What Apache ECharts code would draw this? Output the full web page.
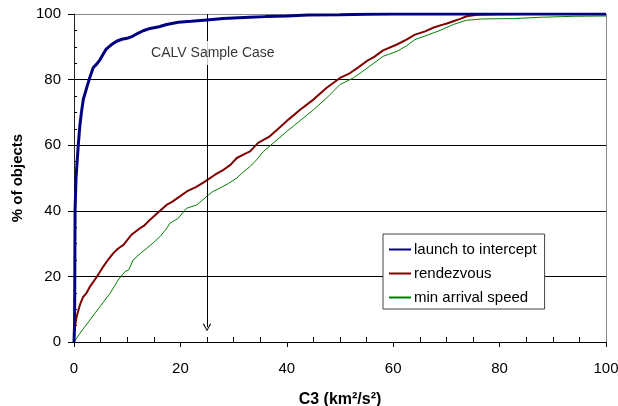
<!DOCTYPE html>
<html>
<head>
<meta charset="utf-8">
<script src="https://cdn.jsdelivr.net/npm/echarts@6/dist/echarts.min.js"></script>
<style>
html,body{margin:0;padding:0;background:#fff;}
#chart{width:618px;height:406px;}
</style>
</head>
<body>
<div id="chart"></div>
<script>
// ---- data ----
const seriesNames = ['launch to intercept', 'rendezvous', 'min arrival speed'];
const xTicks = [0, 20, 40, 60, 80, 100];
const yTicks = [0, 20, 40, 60, 80, 100];
const minorTicks = [5, 10, 15, 25, 30, 35, 45, 50, 55, 65, 70, 75, 85, 90, 95];

const launchData = [[0,0],[0.1,5],[0.15,20],[0.2,40],[0.38,50],[0.8,60],[1.1,66],[1.4,70],[1.75,74],[2.3,77],[2.9,80.3],[3.6,83.6],[4.3,84.8],[4.9,86.1],[6.0,89.2],[7.0,90.6],[8.0,91.7],[9,92.3],[10.2,92.7],[11,93.2],[12.1,94.2],[13,94.9],[14.3,95.6],[16,96.1],[17.4,96.8],[19.6,97.5],[22,97.8],[25,98.2],[28,98.6],[30,98.8],[33,99.0],[36,99.2],[40,99.4],[44,99.7],[50,99.8],[55,99.9],[60,100],[100,100]];

const rendezvousData = [[0,0],[0.05,3],[0.19,4.7],[0.5,7.7],[1.1,11.3],[1.75,13.8],[2.3,14.8],[3.0,16.9],[4.3,19.9],[5.5,23],[6.5,25.3],[7.4,27.1],[8.3,28.5],[9.3,29.6],[10.8,32.7],[12.4,34.7],[13.2,35.5],[14.3,37.3],[15.8,39.5],[17.4,41.8],[18.5,42.8],[19.9,44.4],[21.2,45.9],[23,47.3],[24.6,48.9],[26.5,51],[28.1,52.5],[29.4,54],[30.6,56.1],[32,57.3],[33.1,58.1],[34.6,60.7],[36.8,62.7],[38.5,65.2],[40.3,67.8],[42.5,70.8],[45.0,73.9],[47.5,77.5],[50.0,80.5],[51.9,82.0],[53.5,83.8],[55.0,85.6],[56.5,87.0],[58.1,88.9],[60.7,90.7],[62.5,92.2],[64.1,93.7],[66,94.7],[67.5,95.8],[69,96.6],[70.1,97.1],[71.3,97.8],[72.6,98.5],[73.8,99.3],[75.7,99.8],[80,99.9],[85,100],[100,100]];

const minArrivalData = [[0,0],[0.3,0.6],[1.1,2.6],[2,4.6],[3.0,6.7],[4,8.9],[4.9,10.8],[6.8,14.9],[8.3,18.9],[9.6,21.5],[10.3,22],[11.1,25.0],[12.4,26.9],[13.7,28.6],[15,30.4],[16.2,32.2],[17.5,34.8],[18.0,36.2],[19.5,37.6],[21.2,40.8],[23.1,41.8],[24.6,43.9],[26,45.8],[27.4,46.9],[29,48.3],[30.6,50.0],[31.8,51.8],[33.1,53.5],[34.3,55.5],[35.6,58.1],[37.5,60.7],[40.0,64.2],[42.5,67.5],[45.0,70.8],[47.5,74.4],[50.0,78.5],[52.5,80.5],[54,82.2],[55.6,84.1],[58.1,87.1],[60.7,88.6],[62.5,90.3],[64.1,92.2],[66.5,93.6],[68.8,95.0],[71.3,96.8],[73.8,98.1],[76.9,98.5],[82.6,98.6],[87.6,99.0],[93.9,99.3],[100,99.4]];

const sampleCaseLabel = 'CALV Sample Case';
const sampleCaseC3 = 25;
const sampleArrowTop = 100;
const sampleArrowBottom = 4.5;
const sampleLabelPos = [26.1, 88.1];

const xTitle = 'C3 (km²/s²)';
const yTitle = '% of objects';

// ---- chart ----
const FONT = '"Liberation Sans", Arial, sans-serif';
const chart = echarts.init(document.getElementById('chart'));
const colors = ['#000080', '#800000', '#008000'];
const gridBox = { left: 74, right: 12, top: 14, bottom: 64, containLabel: false, outerBoundsMode: 'none' };

chart.setOption({
  animation: false,
  backgroundColor: '#fff',
  textStyle: { fontFamily: FONT },
  grid: [ Object.assign({}, gridBox), Object.assign({}, gridBox) ],
  legend: {
    data: seriesNames,
    orient: 'vertical',
    left: 383, top: 234,
    width: 168,
    padding: [8, 8, 4, 5],
    itemGap: 9,
    itemWidth: 22, itemHeight: 15,
    backgroundColor: '#fff',
    borderColor: '#444', borderWidth: 1, borderRadius: 0,
    itemStyle: { opacity: 0, color: 'transparent', borderWidth: 0 },
    textStyle: { fontFamily: FONT, fontSize: 15, color: '#000', padding: [0,0,0,-2] },
    selectedMode: false
  },
  xAxis: [{
    gridIndex: 0,
    type: 'value', min: xTicks[0], max: xTicks[xTicks.length-1], interval: 20,
    name: xTitle, nameLocation: 'middle', nameGap: 50,
    nameTextStyle: { fontFamily: FONT, fontSize: 16, fontWeight: 'bold', color: '#000' },
    axisLine: { show: true, onZero: false, lineStyle: { color: '#000', width: 1 } },
    axisTick: { show: true, inside: false, length: 5, lineStyle: { color: '#000' } },
    axisLabel: { fontFamily: FONT, fontSize: 15, color: '#000', margin: 19 },
    splitLine: { show: true, lineStyle: { color: ['transparent','transparent','transparent','transparent','transparent','#888'], width: 1 } }
  }, {
    gridIndex: 1,
    type: 'value', min: xTicks[0], max: xTicks[xTicks.length-1], interval: 5,
    position: 'bottom',
    axisLine: { show: false, onZero: false },
    axisTick: { show: true, inside: true, length: 5, customValues: minorTicks, lineStyle: { color: '#000' } },
    axisLabel: { show: false },
    splitLine: { show: false }
  }],
  yAxis: [{
    gridIndex: 0,
    type: 'value', min: yTicks[0], max: yTicks[yTicks.length-1], interval: 20,
    name: yTitle, nameLocation: 'middle', nameGap: 48, nameRotate: 90,
    nameTextStyle: { fontFamily: FONT, fontSize: 15, fontWeight: 'bold', color: '#000' },
    axisLine: { show: true, lineStyle: { color: '#222', width: 1 } },
    axisTick: { show: true, inside: false, length: 6, lineStyle: { color: '#000' } },
    axisLabel: { fontFamily: FONT, fontSize: 15, color: '#000', margin: 13 },
    splitLine: { show: true, lineStyle: { color: ['#000','#000','#000','#000','#000','#888'], width: 1 } }
  }, {
    gridIndex: 1,
    type: 'value', min: yTicks[0], max: yTicks[yTicks.length-1], interval: 5,
    position: 'left',
    axisLine: { show: false },
    axisTick: { show: true, inside: true, length: 3, customValues: minorTicks, lineStyle: { color: '#000' } },
    axisLabel: { show: false },
    splitLine: { show: false }
  }],
  series: [
    {
      name: seriesNames[0], type: 'line', data: launchData, symbol: 'none', z: 5,
      lineStyle: { color: colors[0], width: 3 }, itemStyle: { color: colors[0] }
    },
    {
      name: seriesNames[1], type: 'line', data: rendezvousData, symbol: 'none', z: 4,
      lineStyle: { color: colors[1], width: 2 }, itemStyle: { color: colors[1] }
    },
    {
      name: seriesNames[2], type: 'line', data: minArrivalData, symbol: 'none', z: 3,
      lineStyle: { color: colors[2], width: 1 }, itemStyle: { color: colors[2] }
    },
    {
      name: 'annotation', type: 'line', data: [], z: 2,
      markLine: {
        silent: true, animation: false,
        symbol: ['none', 'path://M5,0 L10,8 L9,9 L5,2 L1,9 L0,8 Z'],
        symbolSize: [8, 8],
        label: { show: false },
        lineStyle: { color: '#000', width: 1, type: 'solid' },
        data: [[{ coord: [sampleCaseC3, sampleArrowTop] }, { coord: [sampleCaseC3, sampleArrowBottom] }]]
      }
    },
    {
      name: 'annotationLabel', type: 'scatter', data: [sampleLabelPos], symbolSize: 0, z: 10, silent: true,
      label: {
        show: true, position: 'inside', formatter: sampleCaseLabel,
        fontFamily: FONT, fontSize: 14, color: '#000',
        backgroundColor: '#fff', padding: [5, 2]
      }
    }
  ]
});
</script>
</body>
</html>
